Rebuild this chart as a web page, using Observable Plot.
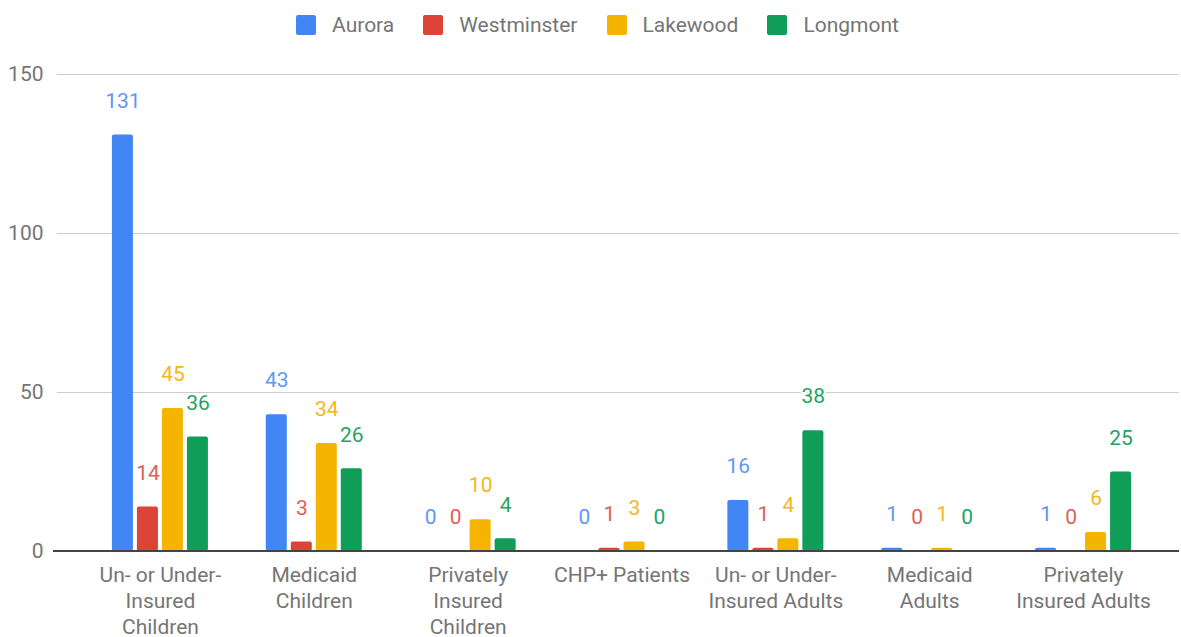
<!DOCTYPE html>
<html>
<head>
<meta charset="utf-8">
<script src="https://cdn.jsdelivr.net/npm/d3@7"></script>
<script src="https://cdn.jsdelivr.net/npm/@observablehq/plot@0.6"></script>
<style>
  html, body { margin: 0; padding: 0; background: #fff; }
  body { width: 1181px; height: 637px; overflow: hidden; font-family: Roboto, sans-serif; }
  #legend { height: 50px; display: flex; justify-content: center; align-items: center; padding-left: 14px; box-sizing: border-box; font-size: 21px; color: #757575; }
  .item { display: flex; align-items: center; margin: 0 14.5px; }
  .sw { width: 20px; height: 20px; border-radius: 2px; margin-right: 16px; }
  #chart svg { display: block; }
</style>
</head>
<body>
<div id="legend"></div>
<div id="chart"></div>
<script>
const categories = ["Un- or Under-Insured Children", "Medicaid Children", "Privately Insured Children", "CHP+ Patients", "Un- or Under-Insured Adults", "Medicaid Adults", "Privately Insured Adults"];
const categoryLabels = ["Un- or Under-\nInsured\nChildren", "Medicaid\nChildren", "Privately\nInsured\nChildren", "CHP+ Patients", "Un- or Under-\nInsured Adults", "Medicaid\nAdults", "Privately\nInsured Adults"];
const series = ["Aurora", "Westminster", "Lakewood", "Longmont"];
const aurora = [131, 43, 0, 0, 16, 1, 1];
const westminster = [14, 3, 0, 1, 1, 0, 0];
const lakewood = [45, 34, 10, 3, 4, 1, 6];
const longmont = [36, 26, 4, 0, 38, 0, 25];
const yTicks = [0, 50, 100, 150];
const colors = ["#4285f4", "#db4437", "#f4b400", "#0f9d58"];
const labelColors = ["#5e97f6", "#e06055", "#f6b61a", "#23a463"];

const valuesBySeries = [aurora, westminster, lakewood, longmont];
const data = categories.flatMap((c, i) => series.map((s, j) => ({category: c, series: s, value: valuesBySeries[j][i]})));
const labelMap = new Map(categories.map((c, i) => [c, categoryLabels[i]]));

// legend
const legend = document.getElementById("legend");
series.forEach((s, j) => {
  const it = document.createElement("div");
  it.className = "item";
  const sw = document.createElement("div");
  sw.className = "sw";
  sw.style.background = colors[j];
  const t = document.createElement("span");
  t.textContent = s;
  it.appendChild(sw); it.appendChild(t);
  legend.appendChild(it);
});

const font = {fontFamily: "Roboto", fontSize: 21};

const chart = Plot.plot({
  width: 1181,
  height: 587,
  marginLeft: 83,
  marginRight: 21,
  marginTop: 24,
  marginBottom: 86,
  style: {fontFamily: "Roboto", fontSize: "21px", color: "#757575", background: "white"},
  fx: {domain: categories, padding: 0, round: false, label: null},
  x: {domain: series, paddingInner: 0.16, paddingOuter: 1.157, round: false, axis: null},
  y: {domain: [0, 150], label: null},
  color: {domain: series, range: colors},
  marks: [
    Plot.ruleY(yTicks.filter(d => d > 0), {stroke: "#cccccc", strokeWidth: 1, insetLeft: -26, insetRight: -19}),
    Plot.barY(data, {fx: "category", x: "series", y: "value", fill: "series", rx: 2}),
    Plot.ruleY([0], {stroke: "#444444", strokeWidth: 2, dy: -0.5, insetLeft: -30, insetRight: -19}),
    ...series.map((s, j) => Plot.text(data.filter(d => d.series === s), {
      fx: "category", x: "series", y: "value", text: d => String(d.value),
      fill: labelColors[j], stroke: "white", strokeWidth: 4, paintOrder: "stroke",
      dy: -34, ...font
    })),
    Plot.axisY({ticks: yTicks, tickSize: 0, tickPadding: 40, label: null, fill: "#757575", ...font}),
    Plot.axisFx({anchor: "bottom", tickSize: 0, tickPadding: 12, label: null, fill: "#757575", lineAnchor: "top", lineHeight: 1.238, tickFormat: d => labelMap.get(d), ...font})
  ]
});
document.getElementById("chart").appendChild(chart);
</script>
</body>
</html>
